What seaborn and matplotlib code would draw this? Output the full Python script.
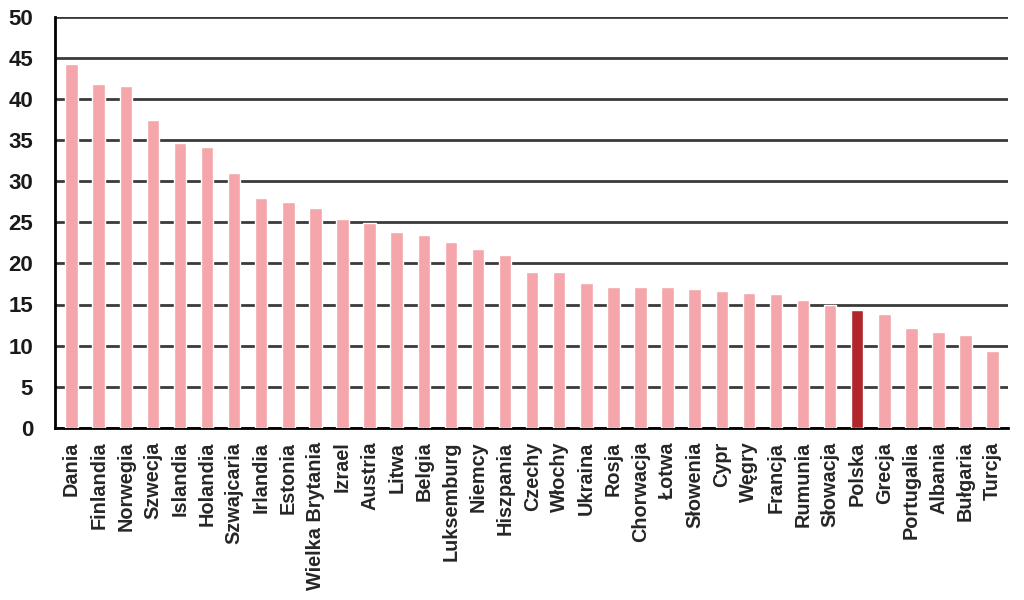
import matplotlib.pyplot as plt
import pandas as pd
import seaborn as sns

countries = [
    "Dania", "Finlandia", "Norwegia", "Szwecja", "Islandia", "Holandia",
    "Szwajcaria", "Irlandia", "Estonia", "Wielka Brytania", "Izrael",
    "Austria", "Litwa", "Belgia", "Luksemburg", "Niemcy", "Hiszpania",
    "Czechy", "Włochy", "Ukraina", "Rosja", "Chorwacja", "Łotwa",
    "Słowenia", "Cypr", "Węgry", "Francja", "Rumunia", "Słowacja",
    "Polska", "Grecja", "Portugalia", "Albania", "Bułgaria", "Turcja",
]
values = [
    44.2, 41.8, 41.6, 37.5, 34.7, 34.2,
    31.0, 27.9, 27.5, 26.7, 25.4,
    24.9, 23.8, 23.4, 22.6, 21.7, 21.0,
    19.0, 18.9, 17.6, 17.1, 17.1, 17.1,
    16.9, 16.7, 16.4, 16.3, 15.6, 15.0,
    14.3, 13.9, 12.2, 11.7, 11.3, 9.4,
]
highlight = "Polska"

df = pd.DataFrame({"country": countries, "value": values})
palette = {c: ("#B0262B" if c == highlight else "#F5A6AA") for c in countries}

sns.set_style("white")
plt.rcParams["font.family"] = ["Liberation Sans", "DejaVu Sans"]

fig = plt.figure(figsize=(10.24, 6), dpi=100)
ax = fig.add_axes([0.054, 0.287, 0.93, 0.685])

sns.barplot(
    data=df, x="country", y="value", hue="country", palette=palette,
    width=0.46, legend=False, saturation=1, ax=ax, zorder=3,
)

ax.set_ylim(0, 50)
ax.set_xlim(-0.6, len(countries) - 0.45)
ax.set_yticks(range(0, 51, 5))
ax.yaxis.grid(True, color="#3a3a3a", linewidth=2, zorder=0)
ax.set_axisbelow(True)
ax.set_xlabel("")
ax.set_ylabel("")

for side in ["top", "right"]:
    ax.spines[side].set_visible(False)
ax.spines["left"].set_color("black")
ax.spines["left"].set_linewidth(2)
ax.spines["bottom"].set_color("black")
ax.spines["bottom"].set_linewidth(2)

ax.tick_params(axis="y", length=6, width=2, color="#3a3a3a", labelsize=16, pad=10)
ax.tick_params(axis="x", length=0, labelsize=14.3, pad=10)
plt.setp(ax.get_xticklabels(), rotation=90, fontweight="bold")
plt.setp(ax.get_yticklabels(), fontweight="bold", color="#1a1a1a")

fig.savefig("out.png", dpi=100)
